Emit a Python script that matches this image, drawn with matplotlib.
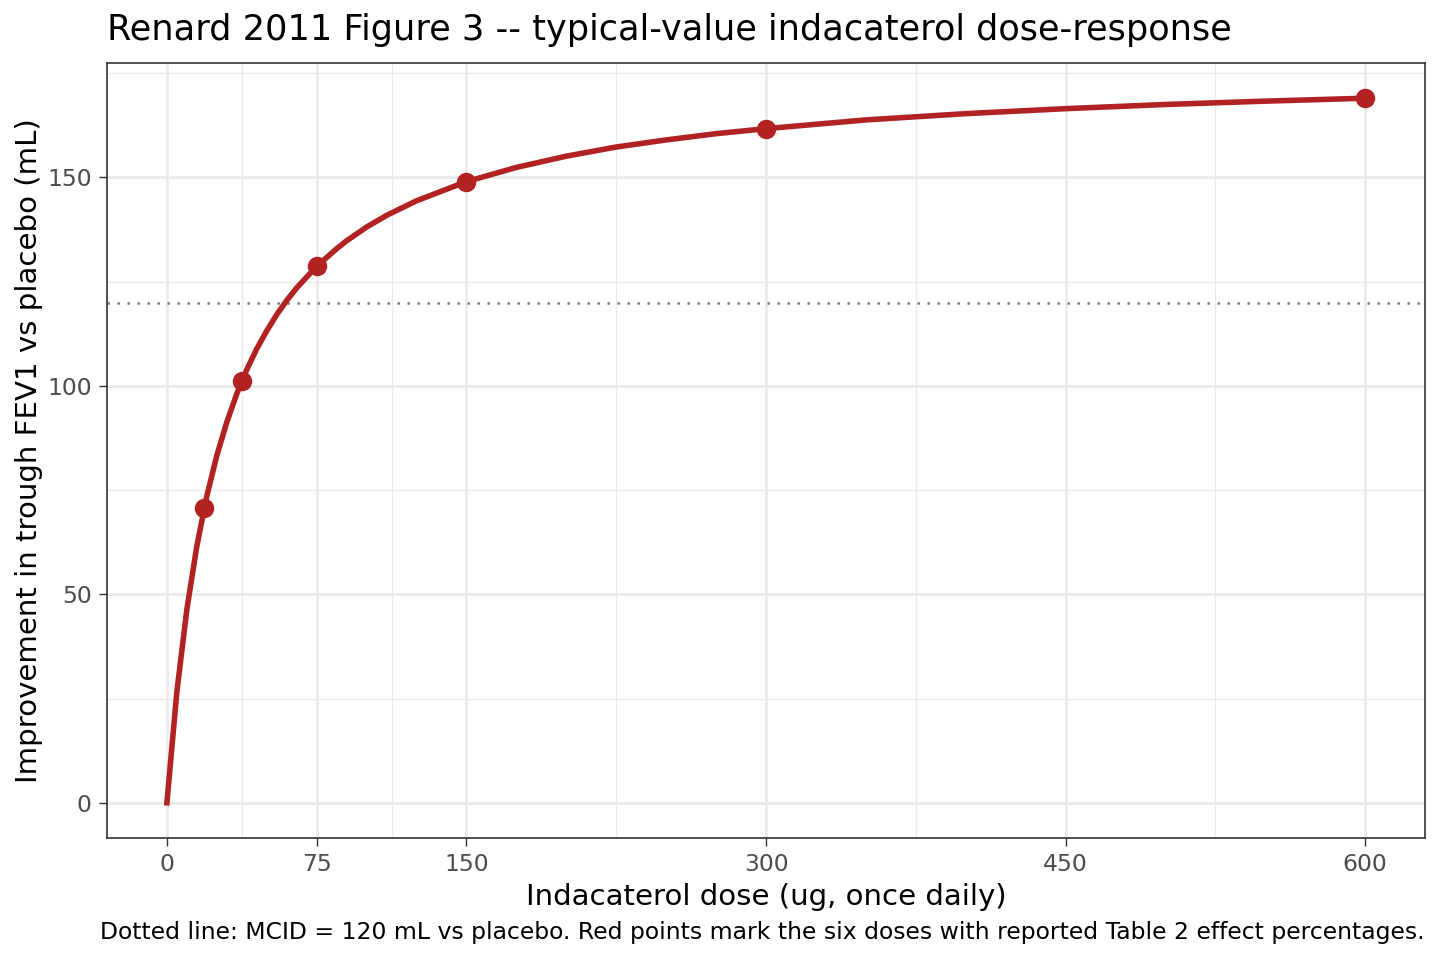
import matplotlib
matplotlib.use("Agg")
import matplotlib.pyplot as plt

# typical-value curve
curve_dose = [0, 5, 10, 15, 20, 25, 30, 35, 40, 45, 50, 55, 60, 65, 75, 85, 90,
              100, 110, 125, 150, 175, 200, 225, 250, 275, 300, 350, 400, 450,
              500, 550, 600]
curve_resp = [0, 26.7, 46.4, 61.6, 73.6, 83.3, 91.3, 98.1, 103.9, 108.9, 113.2,
              117.1, 120.5, 123.5, 128.7, 132.9, 134.8, 138.1, 140.9, 144.4,
              149.0, 152.4, 155.1, 157.3, 159.0, 160.5, 161.7, 163.8, 165.3,
              166.5, 167.5, 168.3, 169.0]

# the six doses with reported effect percentages
point_dose = [18.75, 37.5, 75, 150, 300, 600]
point_resp = [70.8, 101.1, 128.7, 149.0, 161.7, 169.0]

mcid = 120
x_ticks = [0, 75, 150, 300, 450, 600]
x_minor = [37.5, 112.5, 225, 375, 525]
y_ticks = [0, 50, 100, 150]
y_minor = [25, 75, 125, 175]

title = "Renard 2011 Figure 3 -- typical-value indacaterol dose-response"
xlabel = "Indacaterol dose (ug, once daily)"
ylabel = "Improvement in trough FEV1 vs placebo (mL)"
caption = ("Dotted line: MCID = 120 mL vs placebo. Red points mark the six doses "
           "with reported Table 2 effect percentages.")

red = "#B22222"

fig = plt.figure(figsize=(7.2, 4.8), dpi=200)
ax = fig.add_axes([107 / 1440, 1 - 838 / 960, (1425 - 107) / 1440, (838 - 63) / 960])

# grid like theme_bw
for v in x_minor:
    ax.axvline(v, color="#EBEBEB", lw=0.5, zorder=0)
for v in y_minor:
    ax.axhline(v, color="#EBEBEB", lw=0.5, zorder=0)
for v in x_ticks:
    ax.axvline(v, color="#EBEBEB", lw=1.0, zorder=0)
for v in y_ticks:
    ax.axhline(v, color="#EBEBEB", lw=1.0, zorder=0)

ax.axhline(mcid, color="#7F7F7F", lw=0.9, ls=(0, (1, 3)), zorder=1)
ax.plot(curve_dose, curve_resp, color=red, lw=2.0, zorder=2,
        solid_joinstyle="round")
ax.scatter(point_dose, point_resp, color=red, s=36, zorder=3)

ax.set_xlim(-30, 630)
ax.set_ylim(-8.45, 177.45)
ax.set_xticks(x_ticks)
ax.set_yticks(y_ticks)
ax.tick_params(labelsize=8.45, labelcolor="#4D4D4D", color="#333333",
               length=3, width=0.5, pad=2.5)
for s in ax.spines.values():
    s.set_color("#333333")
    s.set_linewidth(0.6)

ax.set_xlabel(xlabel, fontsize=10.56, labelpad=2.5)
ax.set_ylabel(ylabel, fontsize=10.56, labelpad=1.5)
fig.text(107 / 1440, 1 - 30 / 960, title, fontsize=12.65, va="center", ha="left")
fig.text(1425 / 1440, 1 - 932 / 960, caption, fontsize=8.45, va="center", ha="right")

fig.savefig("out.png", dpi=200)
